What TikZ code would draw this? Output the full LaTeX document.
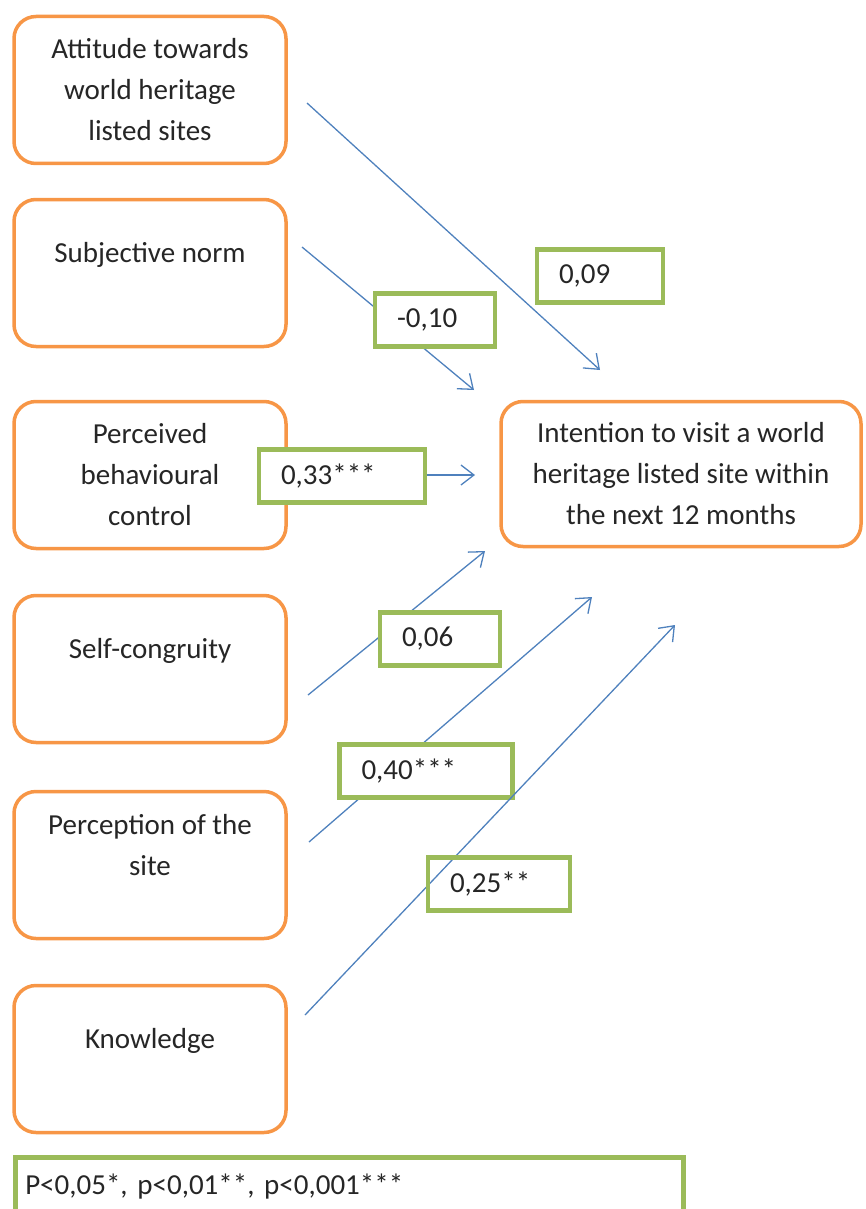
\documentclass[tikz,border=0pt]{standalone}
\usepackage{fontspec}
\setmainfont{Carlito}
\usetikzlibrary{arrows.meta}
\definecolor{boxorange}{RGB}{247,150,70}
\definecolor{coefgreen}{RGB}{155,187,89}
\definecolor{pathblue}{RGB}{79,129,189}

\begin{document}
\begin{tikzpicture}[x=1pt,y=-1pt,
  factor/.style={draw=boxorange, line width=3.5pt, rounded corners=22pt, fill=white,
    minimum width=272pt, minimum height=147pt, align=center, text=black!85,
    font=\fontsize{29}{41}\selectfont},
  coef/.style={draw=coefgreen, line width=4.5pt, fill=white, inner xsep=22pt,
    minimum height=53pt, align=left, text=black!85, font=\fontsize{29}{41}\selectfont},
  effect/.style={pathblue, line width=1.3pt, -{Straight Barb[length=13pt,width=20pt]}}]
  \useasboundingbox (0,0) rectangle (866,1209);
  \clip (0,0) rectangle (866,1209);

  \node[factor] (att) at (150,90) {Attitude towards\\world heritage\\listed sites};
  \node[factor] (sn) at (150,273) {Subjective norm\\\mbox{}};
  \node[factor] (pbc) at (150,475) {Perceived\\behavioural\\control};
  \node[factor] (sc) at (150,669) {Self-congruity\\\mbox{}};
  \node[factor] (pos) at (150,865) {Perception of the\\site\\\mbox{}};
  \node[factor] (kn) at (150,1059) {Knowledge\\\mbox{}};
  \node[factor, minimum width=360pt, minimum height=145pt] (int) at (681,474)
    {Intention to visit a world\\heritage listed site within\\the next 12 months};

  \coordinate (s1) at (307,103);  \coordinate (t1) at (600,370);
  \coordinate (s2) at (302,247);  \coordinate (t2) at (474,390);
  \coordinate (t3) at (475,475);
  \coordinate (s4) at (308,695);  \coordinate (t4) at (485,551);
  \coordinate (s5) at (309,842);  \coordinate (t5) at (592,597);
  \coordinate (s6) at (305,1015); \coordinate (t6) at (675,625);

  \draw[effect] (s1) -- (t1);
  \draw[effect] (s2) -- (t2);
  \draw[effect] (pbc.east) -- (t3);
  \draw[effect] (s4) -- (t4);
  \draw[effect] (s5) -- (t5);

  \node[coef, text width=82pt] (b09) at (600,276) {0,09};
  \node[coef, text width=76pt] (b10) at (435,320) {-0,10};
  \node[coef, text width=122pt] (b33) at (342,476) {0,33***};
  \node[coef, text width=76pt] (b06) at (440,639) {0,06};
  \node[coef, text width=129pt] (b40) at (426,771) {0,40***};

  \draw[effect] (s6) -- (t6);
  \node[coef, fill=none, text width=98pt] (b25) at (499,884) {0,25**};

  \node[coef, anchor=north west, text width=648pt, inner xsep=10pt, minimum height=70pt,
    text height=21pt, text depth=17pt] (sig) at (13,1155) {P<0,05*, p<0,01**, p<0,001***};
\end{tikzpicture}
\end{document}
